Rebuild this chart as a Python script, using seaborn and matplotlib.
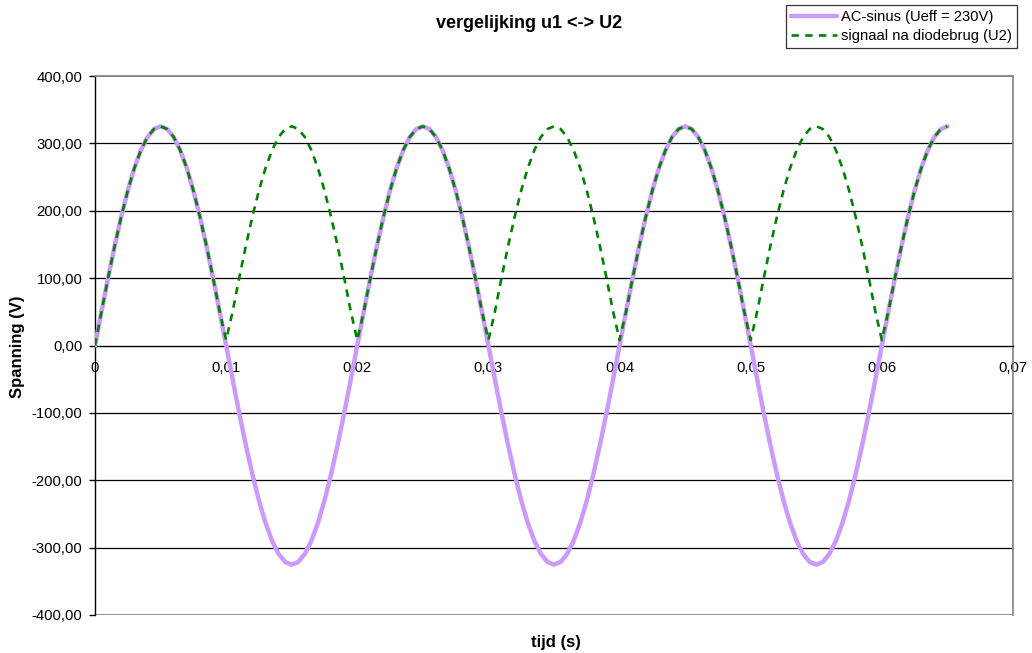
import matplotlib
matplotlib.use("Agg")
import matplotlib.pyplot as plt
import seaborn as sns
import pandas as pd
from matplotlib.ticker import FuncFormatter, MultipleLocator

# ---------------- data ----------------
tijd = [
    0.0000, 0.0005, 0.0010, 0.0015, 0.0020, 0.0025, 0.0030, 0.0035, 0.0040, 0.0045,
    0.0050, 0.0055, 0.0060, 0.0065, 0.0070, 0.0075, 0.0080, 0.0085, 0.0090, 0.0095,
    0.0100, 0.0105, 0.0110, 0.0115, 0.0120, 0.0125, 0.0130, 0.0135, 0.0140, 0.0145,
    0.0150, 0.0155, 0.0160, 0.0165, 0.0170, 0.0175, 0.0180, 0.0185, 0.0190, 0.0195,
    0.0200, 0.0205, 0.0210, 0.0215, 0.0220, 0.0225, 0.0230, 0.0235, 0.0240, 0.0245,
    0.0250, 0.0255, 0.0260, 0.0265, 0.0270, 0.0275, 0.0280, 0.0285, 0.0290, 0.0295,
    0.0300, 0.0305, 0.0310, 0.0315, 0.0320, 0.0325, 0.0330, 0.0335, 0.0340, 0.0345,
    0.0350, 0.0355, 0.0360, 0.0365, 0.0370, 0.0375, 0.0380, 0.0385, 0.0390, 0.0395,
    0.0400, 0.0405, 0.0410, 0.0415, 0.0420, 0.0425, 0.0430, 0.0435, 0.0440, 0.0445,
    0.0450, 0.0455, 0.0460, 0.0465, 0.0470, 0.0475, 0.0480, 0.0485, 0.0490, 0.0495,
    0.0500, 0.0505, 0.0510, 0.0515, 0.0520, 0.0525, 0.0530, 0.0535, 0.0540, 0.0545,
    0.0550, 0.0555, 0.0560, 0.0565, 0.0570, 0.0575, 0.0580, 0.0585, 0.0590, 0.0595,
    0.0600, 0.0605, 0.0610, 0.0615, 0.0620, 0.0625, 0.0630, 0.0635, 0.0640, 0.0645,
    0.0650,
]

u1_ac_sinus = [
    0.0, 50.9, 100.5, 147.7, 191.2, 230.0, 263.2, 289.8, 309.4, 321.3,
    325.3, 321.3, 309.4, 289.8, 263.2, 230.0, 191.2, 147.7, 100.5, 50.9,
    0.0, -50.9, -100.5, -147.7, -191.2, -230.0, -263.2, -289.8, -309.4, -321.3,
    -325.3, -321.3, -309.4, -289.8, -263.2, -230.0, -191.2, -147.7, -100.5, -50.9,
    0.0, 50.9, 100.5, 147.7, 191.2, 230.0, 263.2, 289.8, 309.4, 321.3,
    325.3, 321.3, 309.4, 289.8, 263.2, 230.0, 191.2, 147.7, 100.5, 50.9,
    0.0, -50.9, -100.5, -147.7, -191.2, -230.0, -263.2, -289.8, -309.4, -321.3,
    -325.3, -321.3, -309.4, -289.8, -263.2, -230.0, -191.2, -147.7, -100.5, -50.9,
    0.0, 50.9, 100.5, 147.7, 191.2, 230.0, 263.2, 289.8, 309.4, 321.3,
    325.3, 321.3, 309.4, 289.8, 263.2, 230.0, 191.2, 147.7, 100.5, 50.9,
    0.0, -50.9, -100.5, -147.7, -191.2, -230.0, -263.2, -289.8, -309.4, -321.3,
    -325.3, -321.3, -309.4, -289.8, -263.2, -230.0, -191.2, -147.7, -100.5, -50.9,
    0.0, 50.9, 100.5, 147.7, 191.2, 230.0, 263.2, 289.8, 309.4, 321.3,
    325.3,
]

u2_diodebrug = [
    0.0, 50.9, 100.5, 147.7, 191.2, 230.0, 263.2, 289.8, 309.4, 321.3,
    325.3, 321.3, 309.4, 289.8, 263.2, 230.0, 191.2, 147.7, 100.5, 50.9,
    8.0, 50.9, 100.5, 147.7, 191.2, 230.0, 263.2, 289.8, 309.4, 321.3,
    325.3, 321.3, 309.4, 289.8, 263.2, 230.0, 191.2, 147.7, 100.5, 50.9,
    8.0, 50.9, 100.5, 147.7, 191.2, 230.0, 263.2, 289.8, 309.4, 321.3,
    325.3, 321.3, 309.4, 289.8, 263.2, 230.0, 191.2, 147.7, 100.5, 50.9,
    8.0, 50.9, 100.5, 147.7, 191.2, 230.0, 263.2, 289.8, 309.4, 321.3,
    325.3, 321.3, 309.4, 289.8, 263.2, 230.0, 191.2, 147.7, 100.5, 50.9,
    8.0, 50.9, 100.5, 147.7, 191.2, 230.0, 263.2, 289.8, 309.4, 321.3,
    325.3, 321.3, 309.4, 289.8, 263.2, 230.0, 191.2, 147.7, 100.5, 50.9,
    8.0, 50.9, 100.5, 147.7, 191.2, 230.0, 263.2, 289.8, 309.4, 321.3,
    325.3, 321.3, 309.4, 289.8, 263.2, 230.0, 191.2, 147.7, 100.5, 50.9,
    8.0, 50.9, 100.5, 147.7, 191.2, 230.0, 263.2, 289.8, 309.4, 321.3,
    325.3,
]

series_labels = ["AC-sinus (Ueff = 230V)", "signaal na diodebrug (U2)"]
title_text = "vergelijking u1 <-> U2"
x_label = "tijd (s)"
y_label = "Spanning (V)"

# ---------------- plotting ----------------
sns.set_theme(style="white")
plt.rcParams["font.family"] = ["Liberation Sans", "DejaVu Sans"]
plt.rcParams["text.color"] = "black"
plt.rcParams["xtick.color"] = "black"
plt.rcParams["ytick.color"] = "black"

df1 = pd.DataFrame({"t": tijd, "u": u1_ac_sinus})
df2 = pd.DataFrame({"t": tijd, "u": u2_diodebrug})

fig = plt.figure(figsize=(10.32, 6.53), dpi=100)
ax = fig.add_axes([95 / 1032, (653 - 615) / 653, (1013 - 95) / 1032, (615 - 76) / 653])

# gridlines
for yv in [-300, -200, -100, 100, 200, 300]:
    ax.axhline(yv, color="black", lw=0.9, zorder=1)
ax.axhline(400, color="#808080", lw=1.2, zorder=1)
ax.axhline(-400, color="#808080", lw=1.2, zorder=1)

sns.lineplot(data=df1, x="t", y="u", ax=ax, sort=False, estimator=None,
             color="#CC99FF", lw=3.2, label=series_labels[0], zorder=3)
sns.lineplot(data=df2, x="t", y="u", ax=ax, sort=False, estimator=None,
             color="#008000", lw=1.9, label=series_labels[1], zorder=4)
ax.lines[-1].set_dashes([2.8, 2.4])

ax.set_xlim(0, 0.07)
ax.set_ylim(-400, 400)
ax.xaxis.set_major_locator(MultipleLocator(0.01))
ax.yaxis.set_major_locator(MultipleLocator(100))


def fmt_x(v, pos):
    if abs(v) < 1e-12:
        return "0"
    return f"{v:.2f}".replace(".", ",")


def fmt_y(v, pos):
    return f"{v:.2f}".replace(".", ",")


ax.xaxis.set_major_formatter(FuncFormatter(fmt_x))
ax.yaxis.set_major_formatter(FuncFormatter(fmt_y))

ax.spines["bottom"].set_position(("data", 0))
ax.spines["bottom"].set_color("black")
ax.spines["bottom"].set_linewidth(1.0)
ax.spines["left"].set_color("black")
ax.spines["left"].set_linewidth(1.0)
ax.spines["top"].set_color("#808080")
ax.spines["right"].set_color("#808080")
ax.spines["top"].set_linewidth(1.2)
ax.spines["right"].set_linewidth(1.2)

ax.tick_params(axis="y", which="major", direction="out", length=4, width=1,
               color="black", pad=5, labelsize=10.7, labelcolor="black", left=True)
ax.tick_params(axis="x", which="major", direction="out", length=0, pad=11,
               labelsize=10.7, labelcolor="black", bottom=True)

ax.set_xlabel("")
ax.set_ylabel("")
fig.text(18 / 1032, 1 - 347 / 653, y_label, rotation=90, ha="center", va="center",
         fontsize=12, fontweight="bold", color="black")
fig.text(556 / 1032, 1 - 642 / 653, x_label, ha="center", va="center",
         fontsize=12, fontweight="bold", color="black")
fig.text(529 / 1032, 1 - 23 / 653, title_text, ha="center", va="center",
         fontsize=13, fontweight="bold", color="black")

ax.get_legend().remove()
handles, labels = ax.get_legend_handles_labels()
leg = fig.legend(handles, labels, loc="upper right",
                 bbox_to_anchor=(1017 / 1032, 1 - 5 / 653),
                 frameon=True, fancybox=False, edgecolor="black", fontsize=10.6,
                 handlelength=3.1, handletextpad=0.3, borderpad=0.35,
                 labelspacing=0.35, borderaxespad=0, labelcolor="black")
leg.get_frame().set_linewidth(0.9)

fig.savefig("out.png", dpi=100)
